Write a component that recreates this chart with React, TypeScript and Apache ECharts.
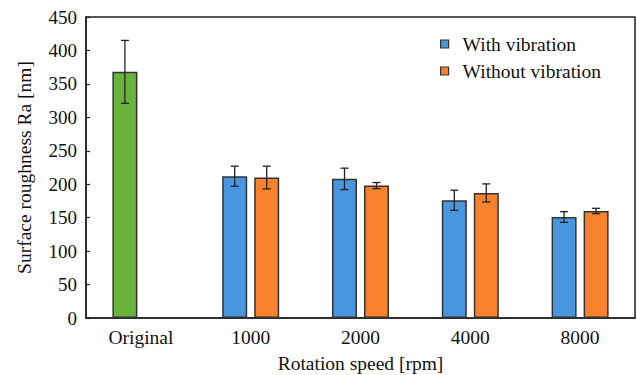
import React, { useEffect, useRef } from "react";
import * as echarts from "echarts";

const categories = ["Original", "1000", "2000", "4000", "8000"];
const withVib = [368, 212, 208, 176, 151];
const withErr = [47, 15, 16, 15, 8];
const withoutVib: (number | null)[] = [null, 210, 198, 187, 160];
const withoutErr: (number | null)[] = [null, 17, 4.5, 13.5, 4];
const yTicks = { min: 0, max: 450, interval: 50 };

const GREEN = "#6ab43e";
const BLUE = "#4a95e0";
const ORANGE = "#f7812c";
const FONT = "Liberation Serif";

export default function App() {
  const ref = useRef<HTMLDivElement>(null);
  useEffect(() => {
    if (!ref.current) return;
    const chart = echarts.init(ref.current, null, { renderer: "svg" });
    const barWidth = 25;
    const gapPx = 7;
    const off = (barWidth + gapPx) / 2;

    const errData: number[][] = [];
    withVib.forEach((v, i) => {
      errData.push([i, v - withErr[i], v + withErr[i], -off]);
    });
    withoutVib.forEach((v, i) => {
      if (v != null && withoutErr[i] != null) {
        errData.push([i, v - (withoutErr[i] as number), v + (withoutErr[i] as number), off]);
      }
    });

    const txt = { fontFamily: FONT, fontSize: 19.5, color: "#111" };

    chart.setOption({
      animation: false,
      textStyle: { fontFamily: FONT },
      grid: {
        left: 86,
        right: 2,
        top: 17,
        bottom: 57,
        outerBoundsMode: "none",
        containLabel: false,
        show: true,
        borderColor: "#222",
        borderWidth: 1.5,
      },
      legend: {
        orient: "vertical",
        left: 435,
        top: 29,
        itemWidth: 8,
        itemHeight: 8,
        itemGap: 7,
        icon: "rect",
        data: ["With vibration", "Without vibration"],
        textStyle: { ...txt, padding: [0, 0, 0, 9] },
        itemStyle: { borderColor: "#333", borderWidth: 1.2 },
      },
      xAxis: {
        type: "category",
        data: categories,
        axisTick: { show: false },
        axisLine: { lineStyle: { color: "#222", width: 1.5 } },
        axisLabel: { ...txt, margin: 9 },
        name: "Rotation speed [rpm]",
        nameLocation: "middle",
        nameGap: 35,
        nameTextStyle: txt,
      },
      yAxis: {
        type: "value",
        min: yTicks.min,
        max: yTicks.max,
        interval: yTicks.interval,
        splitLine: { show: false },
        axisLine: { show: true, lineStyle: { color: "#222", width: 1.5 } },
        axisTick: { show: true, inside: true, length: 4, lineStyle: { color: "#222", width: 1.2 } },
        axisLabel: { ...txt, fontSize: 19, margin: 9 },
        name: "Surface roughness Ra [nm]",
        nameLocation: "middle",
        nameGap: 52,
        nameTextStyle: txt,
      },
      series: [
        {
          name: "With vibration",
          type: "bar",
          barWidth,
          barGap: `${(gapPx / barWidth) * 100}%`,
          itemStyle: { color: BLUE, borderColor: "#333", borderWidth: 1.5 },
          data: withVib.map((v, i) =>
            i === 0 ? { value: v, itemStyle: { color: GREEN } } : v
          ),
        },
        {
          name: "Without vibration",
          type: "bar",
          barWidth,
          itemStyle: { color: ORANGE, borderColor: "#333", borderWidth: 1.5 },
          data: withoutVib.map((v) => (v == null ? "-" : v)),
        },
        {
          type: "custom",
          name: "err",
          z: 10,
          data: errData,
          renderItem: (params: any, api: any) => {
            const idx = api.value(0);
            const lo = api.coord([idx, api.value(1)]);
            const hi = api.coord([idx, api.value(2)]);
            const x = lo[0] + api.value(3);
            const cap = 4;
            const style = { stroke: "#222", lineWidth: 1.3 };
            return {
              type: "group",
              children: [
                { type: "line", shape: { x1: x, y1: lo[1], x2: x, y2: hi[1] }, style },
                { type: "line", shape: { x1: x - cap, y1: hi[1], x2: x + cap, y2: hi[1] }, style },
                { type: "line", shape: { x1: x - cap, y1: lo[1], x2: x + cap, y2: lo[1] }, style },
              ],
            };
          },
        },
      ],
    });
    return () => chart.dispose();
  }, []);
  return <div ref={ref} style={{ width: 637, height: 375, position: "absolute", left: 0, top: 0 }} />;
}
